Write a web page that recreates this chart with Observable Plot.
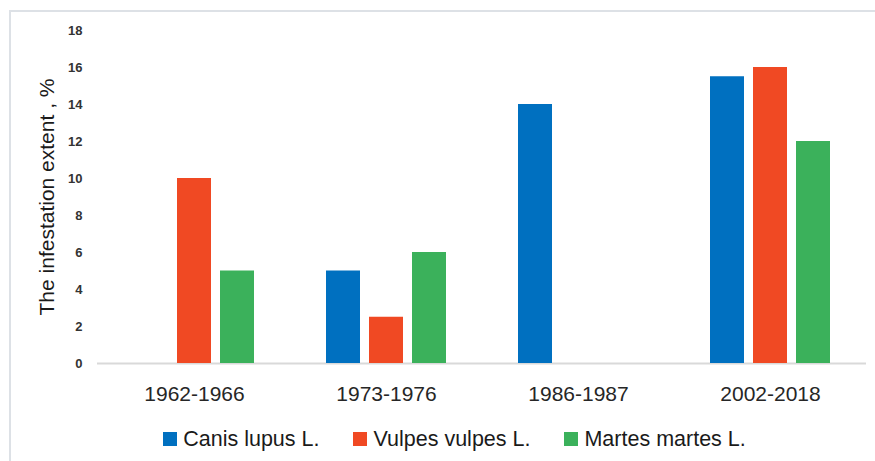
<!DOCTYPE html>
<html>
<head>
<meta charset="utf-8">
<script src="https://cdn.jsdelivr.net/npm/d3@7"></script>
<script src="https://cdn.jsdelivr.net/npm/@observablehq/plot@0.6"></script>
<style>
  html, body { margin: 0; padding: 0; background: #fff; }
  #wrap { position: relative; width: 875px; height: 461px; overflow: hidden; font-family: "Liberation Sans", Arial, sans-serif; }
  #frame { position: absolute; left: 9px; top: 10px; width: 900px; height: 500px; border-left: 2px solid #dde1e6; border-top: 2px solid #dde1e6; pointer-events: none; }
  #chart { position: absolute; left: 0; top: 0; }
  #legend { position: absolute; left: 17px; top: 426px; width: 875px; display: flex; justify-content: center; align-items: center; font-size: 21.5px; color: #1a1a1a; line-height: 26px; }
  .item { display: flex; align-items: center; margin: 0 17px; }
  .sw { width: 14px; height: 14px; margin-right: 6px; }
</style>
</head>
<body>
<div id="wrap">
  <div id="frame"></div>
  <div id="chart"></div>
  <div id="legend"></div>
</div>
<script>
const periods = ["1962-1966", "1973-1976", "1986-1987", "2002-2018"];
const species = ["Canis lupus L.", "Vulpes vulpes L.", "Martes martes L."];
const canis  = [0, 5, 14, 15.5];
const vulpes = [10, 2.5, 0, 16];
const martes = [5, 6, 0, 12];
const colors = ["#0070c0", "#f04923", "#3bb15b"];
const yTicks = [0, 2, 4, 6, 8, 10, 12, 14, 16, 18];
const yTitle = "The infestation extent , %";

const seriesValues = [canis, vulpes, martes];
const rows = [];
species.forEach((s, i) => {
  periods.forEach((p, j) => {
    rows.push({ species: s, period: p, value: seriesValues[i][j], idx: i });
  });
});
const offsets = [-43, 0, 43];

const chart = Plot.plot({
  width: 875,
  height: 415,
  marginLeft: 97,
  marginRight: 9,
  marginTop: 30,
  marginBottom: 52,
  style: { fontFamily: "'Liberation Sans', Arial, sans-serif", color: "#262626", background: "transparent" },
  x: { domain: periods, paddingInner: 0.823, paddingOuter: 0.4115, label: null },
  y: { domain: [0, 18], label: null },
  marks: [
    Plot.ruleY([0], { stroke: "#d9d9d9", strokeWidth: 2 }),
    ...species.map((s, i) => Plot.barY(rows.filter(r => r.idx === i && r.value > 0), {
      x: "period", y: "value", fill: colors[i], dx: offsets[i]
    })),
    Plot.axisX({ tickSize: 0, tickPadding: 23, fontSize: 21, fill: "#262626", label: null }),
    Plot.axisY({ ticks: yTicks, tickSize: 0, tickPadding: 15, fontSize: 13, fontWeight: "bold", fill: "#333", label: null }),
    Plot.text([yTitle], { text: d => d, frameAnchor: "left", textAnchor: "middle", lineAnchor: "middle", rotate: -90, dx: -50, fontSize: 21, fill: "#1a1a1a" })
  ]
});
document.getElementById("chart").appendChild(chart);

const legend = document.getElementById("legend");
species.forEach((s, i) => {
  const item = document.createElement("div");
  item.className = "item";
  const sw = document.createElement("div");
  sw.className = "sw";
  sw.style.background = colors[i];
  const t = document.createElement("span");
  t.textContent = s;
  item.appendChild(sw);
  item.appendChild(t);
  legend.appendChild(item);
});
</script>
</body>
</html>
